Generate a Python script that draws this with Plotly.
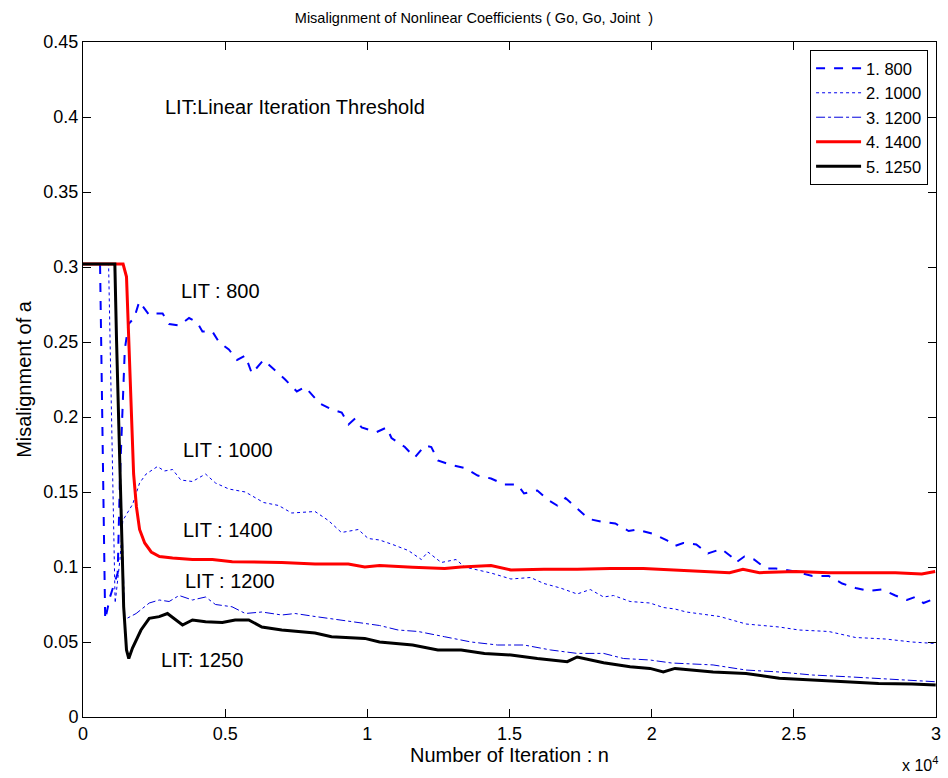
import plotly.graph_objects as go

# Iteration index (n) and misalignment of coefficient a for each LIT setting
n_800 = [0, 600, 780, 950, 1220, 1300, 1470, 1600, 1800, 1980,
         2330, 2510, 2800, 3030, 3380, 3730, 4020, 4200, 4550,
         4780, 5130, 5420, 5710, 5940, 6350, 6760, 7110, 7520, 7810,
         8330, 8750, 9100, 9340, 9570, 9800, 10330, 10680, 10850, 11320,
         11670, 12020, 12250, 12480, 12950, 13420, 13880, 14350, 14820, 15280,
         15510, 15980, 16330, 16680, 16970, 17380, 17790, 18310, 18720, 19190,
         19480, 20060, 20520, 20820, 21110, 21570, 21980, 22450, 22860, 22970,
         23260, 23600, 24020, 24370, 25070, 25650, 26230, 26700, 27170, 27630,
         28100, 28570, 28980, 29270, 29560, 29970]
a_800 = [0.302, 0.302, 0.065, 0.080, 0.096, 0.160, 0.245, 0.262, 0.266, 0.277,
         0.268, 0.269, 0.269, 0.262, 0.261, 0.266, 0.263, 0.257, 0.257,
         0.250, 0.245, 0.238, 0.241, 0.229, 0.238, 0.231, 0.225, 0.217, 0.220,
         0.209, 0.205, 0.203, 0.195, 0.199, 0.193, 0.190, 0.193, 0.186, 0.180,
         0.173, 0.181, 0.180, 0.171, 0.168, 0.166, 0.161, 0.159, 0.155, 0.155,
         0.149, 0.151, 0.145, 0.141, 0.146, 0.139, 0.132, 0.130, 0.129, 0.124,
         0.125, 0.122, 0.118, 0.114, 0.116, 0.115, 0.109, 0.112, 0.106, 0.103,
         0.107, 0.105, 0.099, 0.099, 0.097, 0.094, 0.094, 0.089, 0.086, 0.084,
         0.085, 0.081, 0.078, 0.080, 0.076, 0.079]

n_1000 = [0, 900, 1130, 1300, 1400, 1750, 1990, 2220, 2620, 2860,
          3150, 3440, 3850, 4310, 4660, 5130, 5710, 6350, 6880, 7340,
          8160, 8630, 9090, 9680, 10030, 10430, 10890, 11440, 11900, 12130,
          12600, 13120, 13420, 14350, 15050, 15740, 16210, 16790, 17380, 17840,
          18310, 18660, 19240, 19940, 20410, 20820, 21220, 22390, 23320, 24480,
          25180, 26230, 27170, 28220, 29150, 29970]
a_1000 = [0.302, 0.302, 0.076, 0.105, 0.131, 0.142, 0.156, 0.162, 0.167, 0.164,
          0.165, 0.158, 0.157, 0.162, 0.156, 0.152, 0.150, 0.143, 0.141, 0.136,
          0.137, 0.131, 0.123, 0.125, 0.119, 0.118, 0.115, 0.111, 0.105, 0.110,
          0.103, 0.105, 0.100, 0.096, 0.092, 0.093, 0.089, 0.086, 0.082, 0.085,
          0.080, 0.081, 0.077, 0.076, 0.073, 0.072, 0.070, 0.067, 0.062, 0.060,
          0.058, 0.057, 0.053, 0.052, 0.050, 0.049]

n_1200 = [0, 1100, 1470, 1870, 2330, 2680, 3030, 3380, 3850, 4310,
          4660, 5240, 5710, 6290, 6990, 7460, 8160, 8860, 9560, 10430,
          11080, 11790, 12720, 13650, 14580, 15510, 16440, 17380, 18310, 19010,
          19940, 20700, 22160, 23320, 24490, 25650, 26820, 27980, 29150, 29990]
a_1200 = [0.302, 0.302, 0.065, 0.069, 0.076, 0.078, 0.077, 0.081, 0.078, 0.080,
          0.075, 0.0735, 0.069, 0.070, 0.068, 0.069, 0.067, 0.065, 0.0635, 0.061,
          0.058, 0.057, 0.0535, 0.050, 0.048, 0.048, 0.0447, 0.0424, 0.0424, 0.039,
          0.038, 0.036, 0.0347, 0.0313, 0.030, 0.028, 0.0269, 0.0258, 0.0247, 0.0235]

n_1400 = [0, 1410, 1530, 1590, 1640, 1700, 1780, 1880, 1990, 2170,
          2400, 2690, 3150, 3850, 4550, 5250, 5950, 6990, 8160, 9330,
          9910, 10430, 11590, 12720, 13300, 14350, 15050, 16210, 17380, 18540,
          19710, 20990, 22740, 23210, 23790, 25070, 26230, 27400, 28570, 29500,
          29970]
a_1400 = [0.302, 0.302, 0.2935, 0.262, 0.229, 0.196, 0.162, 0.140, 0.125, 0.116,
          0.110, 0.107, 0.106, 0.105, 0.105, 0.1035, 0.1035, 0.103, 0.102, 0.102,
          0.100, 0.101, 0.0998, 0.099, 0.100, 0.101, 0.098, 0.0985, 0.0985, 0.099,
          0.099, 0.098, 0.0962, 0.0985, 0.0962, 0.097, 0.0962, 0.0962, 0.0962, 0.0953,
          0.097]

n_1250 = [0, 1120, 1180, 1270, 1350, 1430, 1530, 1610, 1740, 1880,
          2040, 2330, 2680, 2970, 3260, 3500, 3850, 4310, 4900, 5350,
          5830, 6290, 6990, 7580, 8160, 8740, 9330, 9910, 10430, 11590,
          12480, 13300, 14120, 15050, 15980, 17030, 17380, 18310, 19240, 19940,
          20410, 20820, 22160, 23320, 24490, 25650, 26820, 27980, 29150, 29990]
a_1250 = [0.302, 0.302, 0.251, 0.185, 0.118, 0.0735, 0.0447, 0.039, 0.046, 0.0513,
          0.058, 0.0658, 0.0669, 0.069, 0.0647, 0.0613, 0.0647, 0.0635, 0.063, 0.0647,
          0.0647, 0.060, 0.058, 0.057, 0.056, 0.0535, 0.053, 0.0524, 0.050, 0.048,
          0.0447, 0.0447, 0.0424, 0.0413, 0.039, 0.0369, 0.040, 0.0362, 0.0335, 0.0324,
          0.030, 0.0324, 0.030, 0.029, 0.0258, 0.0247, 0.0235, 0.0224, 0.022, 0.0213]

x_ticks = [0, 0.5, 1, 1.5, 2, 2.5, 3]
x_tick_text = ["0", "0.5", "1", "1.5", "2", "2.5", "3"]
y_ticks = [0, 0.05, 0.1, 0.15, 0.2, 0.25, 0.3, 0.35, 0.4, 0.45]
y_tick_text = ["0", "0.05", "0.1", "0.15", "0.2", "0.25", "0.3", "0.35", "0.4", "0.45"]

SCALE = 1e4  # x axis shown in units of 10^4 iterations

FONT = "Arial, Liberation Sans, sans-serif"

series = [
    ("1. 800", n_800, a_800, dict(color="#0000ff", width=2, dash="dash")),
    ("2. 1000", n_1000, a_1000, dict(color="#0000ee", width=1, dash="dot")),
    ("3. 1200", n_1200, a_1200, dict(color="#0000dd", width=1, dash="dashdot")),
    ("4. 1400", n_1400, a_1400, dict(color="#ff0000", width=3, dash="solid")),
    ("5. 1250", n_1250, a_1250, dict(color="#000000", width=3, dash="solid")),
]

fig = go.Figure()
for name, n, a, line in series:
    fig.add_trace(go.Scatter(
        x=[v / SCALE for v in n], y=a, mode="lines", name=name, line=line,
    ))

# In-plot labels for each curve
labels = [
    ("LIT:Linear Iteration Threshold", 0.28, 0.4067),
    ("LIT : 800", 0.339, 0.284),
    ("LIT : 1000", 0.343, 0.178),
    ("LIT : 1400", 0.343, 0.1247),
    ("LIT : 1200", 0.350, 0.0907),
    ("LIT: 1250", 0.269, 0.038),
]
for text, x, y in labels:
    fig.add_annotation(x=x, y=y, text=text, showarrow=False, xanchor="left",
                       yanchor="middle", font=dict(family=FONT, size=20, color="black"))

fig.add_annotation(x=1.005, y=-0.088, xref="paper", yref="paper", text="x 10<sup>4</sup>",
                   showarrow=False, xanchor="right", yanchor="bottom",
                   font=dict(family=FONT, size=16, color="black"))

axis_common = dict(showline=True, linecolor="black", linewidth=1, mirror="ticks",
                   ticks="inside", ticklen=8, tickcolor="black", showgrid=False,
                   zeroline=False, tickfont=dict(family=FONT, size=18, color="black"))

fig.update_layout(
    width=948, height=778,
    margin=dict(l=83, r=7, t=42, b=61),
    paper_bgcolor="white", plot_bgcolor="white",
    title=dict(text="Misalignment of Nonlinear Coefficients ( Go, Go, Joint  )",
               x=0.5, xanchor="center", y=0.977, yanchor="middle",
               font=dict(family=FONT, size=14.5, color="black")),
    xaxis=dict(range=[0, 3], tickvals=x_ticks, ticktext=x_tick_text,
               title=dict(text="Number of Iteration : n", standoff=2,
                          font=dict(family=FONT, size=20, color="black")),
               **axis_common),
    yaxis=dict(range=[0, 0.45], tickvals=y_ticks, ticktext=y_tick_text,
               title=dict(text="Misalignment of a", standoff=6,
                          font=dict(family=FONT, size=20, color="black")),
               **axis_common),
    legend=dict(x=0.9907, y=0.988, xanchor="right", yanchor="top",
                bgcolor="white", bordercolor="black", borderwidth=1,
                font=dict(family=FONT, size=16.5, color="black"),
                itemwidth=45, tracegroupgap=0),
    showlegend=True,
)

fig.write_html("out.html")
